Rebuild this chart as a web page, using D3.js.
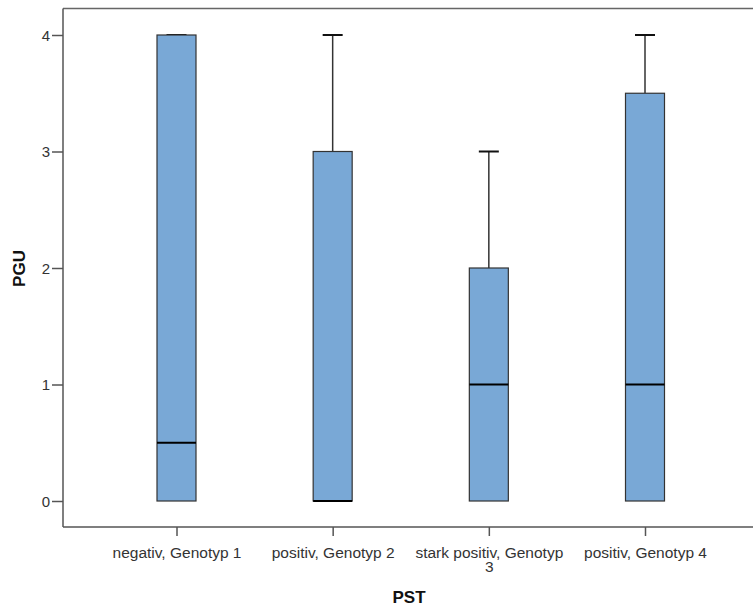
<!DOCTYPE html>
<html>
<head>
<meta charset="utf-8">
<script src="https://cdn.jsdelivr.net/npm/d3@7"></script>
<style>
  html, body { margin: 0; padding: 0; background: #fff; }
  svg { display: block; }
  text { font-family: "Liberation Sans", Arial, sans-serif; }
</style>
</head>
<body>
<svg id="chart" width="753" height="608"></svg>
<script>
const categories = ["negativ, Genotyp 1", "positiv, Genotyp 2", "stark positiv, Genotyp 3", "positiv, Genotyp 4"];
const minVals    = [0, 0, 0, 0];
const q1Vals     = [0, 0, 0, 0];
const medianVals = [0.5, 0, 1, 1];
const q3Vals     = [4, 3, 2, 3.5];
const maxVals    = [4, 4, 3, 4];
const yTicks     = [0, 1, 2, 3, 4];
const xTitle = "PST";
const yTitle = "PGU";

(function () {
const svg = d3.select("#chart");
const mLeft = 63, mTop = 8.5, mBottom = 527, mRight = 760;

const y = d3.scaleLinear().domain([0, 4]).range([501, 35]);
const x = d3.scalePoint().domain(categories).range([176.5, 645]);

const boxW = 39, capW = 20;

// frame: top line
svg.append("line")
  .attr("x1", mLeft).attr("x2", mRight).attr("y1", mTop).attr("y2", mTop)
  .attr("stroke", "#666").attr("stroke-width", 1.5);

// Y axis
const yAxis = svg.append("g")
  .attr("transform", `translate(${mLeft},0)`)
  .call(d3.axisLeft(y).tickValues(yTicks).tickFormat(d3.format("d")).tickSize(11).tickPadding(2).tickSizeOuter(0));
yAxis.select(".domain").remove();
svg.append("line").attr("x1", mLeft).attr("x2", mLeft).attr("y1", mTop).attr("y2", mBottom)
  .attr("stroke", "#555").attr("stroke-width", 1.5);
yAxis.selectAll(".tick line").attr("stroke", "#555").attr("stroke-width", 1.5);
yAxis.selectAll(".tick text").attr("fill", "#333").style("font-size", "15px").attr("dy", "0.36em");

// X axis
const xAxis = svg.append("g")
  .attr("transform", `translate(0,${mBottom})`)
  .call(d3.axisBottom(x).tickSize(9).tickPadding(5).tickSizeOuter(0));
xAxis.select(".domain").remove();
svg.append("line").attr("x1", mLeft).attr("x2", mRight).attr("y1", mBottom).attr("y2", mBottom)
  .attr("stroke", "#555").attr("stroke-width", 1.5);
xAxis.selectAll(".tick line").attr("stroke", "#555").attr("stroke-width", 1.5);
xAxis.selectAll(".tick text").attr("fill", "#333").style("font-size", "15.5px")
  .attr("dy", null).attr("y", 31)
  .each(function(d) {
    const t = d3.select(this);
    const words = d.split(" ");
    t.text(null);
    let line = [];
    let tspan = t.append("tspan").attr("x", 0).attr("dy", 0);
    for (const w of words) {
      line.push(w);
      tspan.text(line.join(" "));
      if (tspan.node().getComputedTextLength() > 158 && line.length > 1) {
        line.pop();
        tspan.text(line.join(" "));
        line = [w];
        tspan = t.append("tspan").attr("x", 0).attr("dy", 13.5).text(w);
      }
    }
  });

// Boxes
const data = categories.map((c, i) => ({
  c, min: minVals[i], q1: q1Vals[i], med: medianVals[i], q3: q3Vals[i], max: maxVals[i]
}));

const g = svg.append("g");
data.forEach(d => {
  const cx = x(d.c);
  g.append("line").attr("x1", cx).attr("x2", cx).attr("y1", y(d.q3)).attr("y2", y(d.max))
    .attr("stroke", "#333").attr("stroke-width", 1.5);
  g.append("line").attr("x1", cx - capW / 2).attr("x2", cx + capW / 2).attr("y1", y(d.max)).attr("y2", y(d.max))
    .attr("stroke", "#111").attr("stroke-width", 2);
  g.append("line").attr("x1", cx).attr("x2", cx).attr("y1", y(d.q1)).attr("y2", y(d.min))
    .attr("stroke", "#333").attr("stroke-width", 1.5);
  g.append("rect")
    .attr("x", cx - boxW / 2).attr("width", boxW)
    .attr("y", y(d.q3)).attr("height", y(d.q1) - y(d.q3))
    .attr("fill", "#79a8d6").attr("stroke", "#333").attr("stroke-width", 1.2);
  g.append("line").attr("x1", cx - boxW / 2).attr("x2", cx + boxW / 2).attr("y1", y(d.med)).attr("y2", y(d.med))
    .attr("stroke", "#000").attr("stroke-width", 2);
});

// Axis titles
svg.append("text").attr("x", 409).attr("y", 603).attr("text-anchor", "middle")
  .style("font-size", "17px").style("font-weight", "bold").attr("fill", "#111").text(xTitle);
svg.append("text").attr("transform", "translate(25,268.5) rotate(-90)").attr("text-anchor", "middle")
  .style("font-size", "17px").style("font-weight", "bold").attr("fill", "#111").text(yTitle);
})();
</script>
</body>
</html>
